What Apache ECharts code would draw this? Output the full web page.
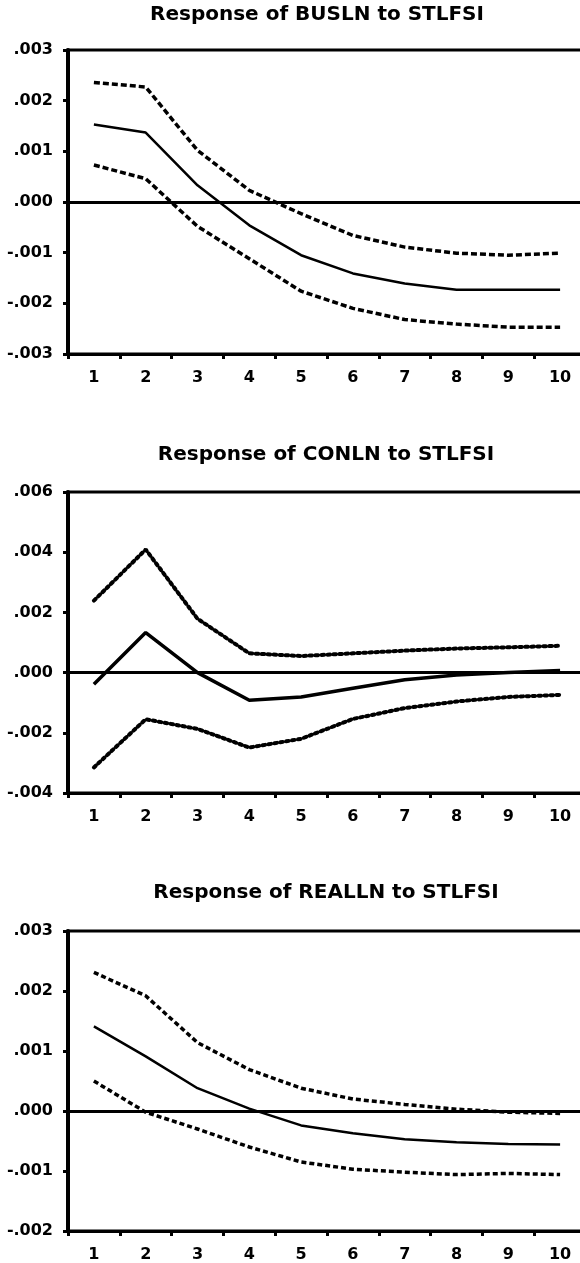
<!DOCTYPE html>
<html>
<head>
<meta charset="utf-8">
<script src="https://cdn.jsdelivr.net/npm/echarts@6/dist/echarts.min.js"></script>
<style>
  html, body { margin: 0; padding: 0; background: #fff; overflow: hidden; }
  /* the plot frame runs past the right edge of the picture, so the canvas is a bit wider than the window */
  #main { width: 600px; height: 1263px; }
</style>
</head>
<body>
<div id="main"></div>
<script>
// periods on the x axis
var periods = ['1', '2', '3', '4', '5', '6', '7', '8', '9', '10'];

// BUSLN
var busIrf = [0.00153, 0.00137, 0.00033, -0.00046, -0.00105, -0.00141, -0.00161, -0.00173, -0.00173, -0.00173];
var busUp  = [0.00236, 0.00227, 0.00102, 0.00023, -0.00023, -0.00066, -0.00089, -0.00101, -0.00105, -0.00101];
var busLo  = [0.00073, 0.00046, -0.00048, -0.00112, -0.00176, -0.00210, -0.00232, -0.00241, -0.00247, -0.00247];

// CONLN
var conIrf = [-0.00039, 0.00133, 0.00000, -0.00092, -0.00081, -0.00052, -0.00024, -0.00008, 0.00000, 0.00007];
var conUp  = [0.00239, 0.00409, 0.00179, 0.00064, 0.00055, 0.00064, 0.00073, 0.00080, 0.00084, 0.00089];
var conLo  = [-0.00315, -0.00155, -0.00187, -0.00249, -0.00220, -0.00154, -0.00118, -0.00096, -0.00081, -0.00074];

// REALLN
var realIrf = [0.00141, 0.00091, 0.00038, 0.00004, -0.00024, -0.00037, -0.00047, -0.00052, -0.00055, -0.00056];
var realUp  = [0.00231, 0.00192, 0.00114, 0.00069, 0.00038, 0.00020, 0.00011, 0.00003, -0.00002, -0.00004];
var realLo  = [0.00050, -0.00002, -0.00030, -0.00060, -0.00085, -0.00097, -0.00102, -0.00106, -0.00104, -0.00106];

var titles = ['Response of BUSLN to STLFSI', 'Response of CONLN to STLFSI', 'Response of REALLN to STLFSI'];
var yMins = [-0.003, -0.004, -0.002];
var yMaxs = [0.003, 0.006, 0.003];
var ySteps = [0.001, 0.002, 0.001];

var panels = [
  { irf: busIrf, up: busUp, lo: busLo },
  { irf: conIrf, up: conUp, lo: conLo },
  { irf: realIrf, up: realUp, lo: realLo }
];

// layout of each panel
var layout = [
  { top: 50,  height: 304, titleX: 317, titleTop: 5,   solid: 2.5, band: 3.5, dash: [6, 3], cap: 'butt' },
  { top: 492, height: 301, titleX: 326, titleTop: 445, solid: 3.5, band: 4, dash: [2.5, 3.5], cap: 'round' },
  { top: 931, height: 301, titleX: 326, titleTop: 883, solid: 2.5, band: 3.5, dash: [5, 3], cap: 'butt' }
];

var font = 'DejaVu Sans';

function fmt(v) {
  var s = Math.abs(v).toFixed(3).replace(/^0/, '');
  return (v < -1e-9 ? '-' : '') + s;
}

var chart = echarts.init(document.getElementById('main'));

var option = {
  animation: false,
  backgroundColor: '#fff',
  title: [],
  grid: [],
  xAxis: [],
  yAxis: [],
  series: []
};

for (var i = 0; i < panels.length; i++) {
  var L = layout[i];
  option.title.push({
    text: titles[i],
    left: L.titleX,
    top: L.titleTop,
    textAlign: 'center',
    padding: 0,
    textStyle: { fontFamily: font, fontWeight: 'bold', fontSize: 20, color: '#000' }
  });
  option.grid.push({
    left: 68, width: 518, top: L.top, height: L.height,
    show: true, borderColor: '#000', borderWidth: 3, backgroundColor: 'transparent'
  });
  option.xAxis.push({
    type: 'category',
    gridIndex: i,
    data: periods,
    boundaryGap: true,
    axisLine: { onZero: false, lineStyle: { color: '#000', width: 3 } },
    axisTick: { show: true, length: 5, lineStyle: { color: '#000', width: 3 } },
    axisLabel: { color: '#000', fontFamily: font, fontWeight: 'bold', fontSize: 16, margin: 16 },
    splitLine: { show: false }
  });
  option.yAxis.push({
    type: 'value',
    gridIndex: i,
    min: yMins[i],
    max: yMaxs[i],
    interval: ySteps[i],
    axisLine: { show: true, lineStyle: { color: '#000', width: 4 } },
    axisTick: { show: true, length: 5, lineStyle: { color: '#000', width: 3 } },
    axisLabel: { color: '#000', fontFamily: font, fontWeight: 'bold', fontSize: 16, margin: 15, formatter: fmt },
    splitLine: { show: false }
  });
  option.series.push({
    type: 'line', xAxisIndex: i, yAxisIndex: i,
    data: panels[i].irf, symbol: 'none', silent: true,
    lineStyle: { color: '#000', width: L.solid, type: 'solid' },
    markLine: {
      silent: true, symbol: ['none', 'none'], label: { show: false },
      lineStyle: { color: '#000', width: 3, type: 'solid' },
      data: [{ yAxis: 0 }]
    },
    z: 3
  });
  option.series.push({
    type: 'line', xAxisIndex: i, yAxisIndex: i,
    data: panels[i].up, symbol: 'none', silent: true,
    lineStyle: { color: '#000', width: L.band, type: L.dash, cap: L.cap }
  });
  option.series.push({
    type: 'line', xAxisIndex: i, yAxisIndex: i,
    data: panels[i].lo, symbol: 'none', silent: true,
    lineStyle: { color: '#000', width: L.band, type: L.dash, cap: L.cap }
  });
}

chart.setOption(option);
</script>
</body>
</html>
